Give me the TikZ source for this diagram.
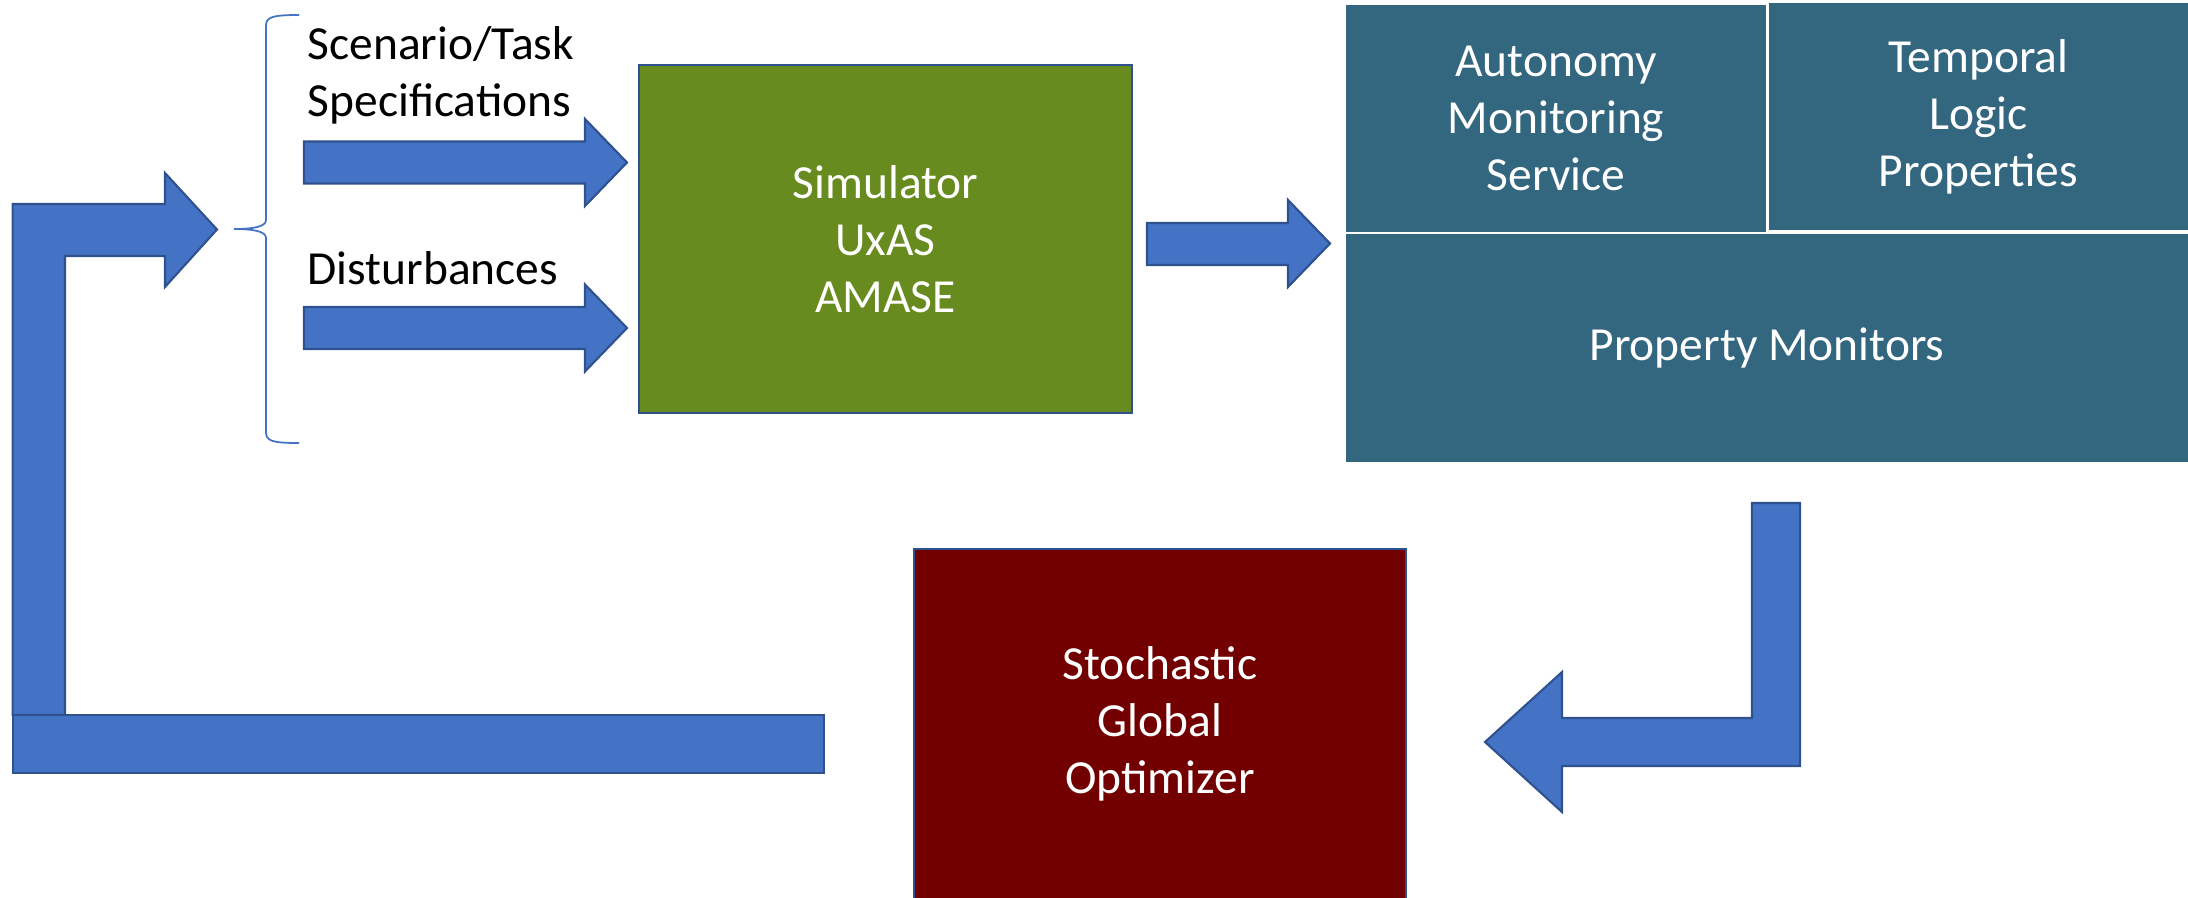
\documentclass[tikz,border=0pt]{standalone}
\usepackage{fontspec}
\setmainfont{Carlito}
\usepackage{tikz}

\definecolor{arrowblue}{HTML}{4472C4}
\definecolor{arrowedge}{HTML}{2F528F}
\definecolor{simgreen}{RGB}{103,139,31}
\definecolor{monteal}{RGB}{51,102,127}
\definecolor{optred}{HTML}{720000}

\tikzset{
	blockarrow/.style={fill=arrowblue,draw=arrowedge,line width=0.6pt},
	box/.style={inner sep=0pt,outer sep=0pt,align=center,text=white,font=\fontsize{13.5}{16.2}\selectfont},
	sidetext/.style={inner sep=0pt,align=left,anchor=base west,font=\fontsize{13.5}{16.2}\selectfont}
}

\begin{document}
\begin{tikzpicture}[x=0.01cm,y=-0.01cm]
		\useasboundingbox (0,0) rectangle (2188,897);
		% simulator and monitors
		\node[box,fill=simgreen,draw=arrowedge,line width=0.6pt,minimum width=4.93cm,minimum height=3.48cm] (sim) at (885.5,239) {Simulator\\UxAS\\AMASE};
		\node[box,fill=monteal,minimum width=4.20cm,minimum height=2.27cm] (ams) at (1556,118.5) {Autonomy\\Monitoring\\Service};
		\node[box,fill=monteal,minimum width=4.19cm,minimum height=2.27cm] (tlp) at (1978.5,116.5) {Temporal\\Logic\\Properties};
		\node[box,fill=monteal,minimum width=8.42cm,minimum height=2.28cm] (pm) at (1767,348) {Property Monitors};
		\node[box,fill=optred,draw=arrowedge,line width=0.6pt,minimum width=4.92cm,minimum height=3.50cm] (sgo) at (1160,724) {Stochastic\\Global\\Optimizer};
		% inputs
		\node[sidetext] (spec) at (307,116) {Scenario/Task\\Specifications};
		\node[sidetext] (dist) at (307,284) {Disturbances};
		\draw[arrowblue,line width=0.5pt] (299,15) .. controls (272,15) and (266,17) .. (266,26) -- (266,220) .. controls (266,227) and (252,229) .. (234,229)
			.. controls (252,229) and (266,231) .. (266,238) -- (266,432) .. controls (266,441) and (272,443) .. (299,443);
		\foreach \y in {162.5,328}
		\filldraw[blockarrow] (304,\y-21) -- (585,\y-21) -- (585,\y-43.5) -- (627,\y) -- (585,\y+43.5) -- (585,\y+21) -- (304,\y+21) -- cycle;
		\filldraw[blockarrow] (1147,223) -- (1288,223) -- (1288,200) -- (1330,243.5) -- (1288,287) -- (1288,265) -- (1147,265) -- cycle;
		% feedback loop
		\filldraw[blockarrow] (1752,503) -- (1800,503) -- (1800,766) -- (1562,766) -- (1562,812) -- (1485,742) -- (1562,672) -- (1562,718) -- (1752,718) -- cycle;
		\filldraw[blockarrow] (12.6,715) -- (12.6,204) -- (165,204) -- (165,173) -- (217,229.5) -- (165,287) -- (165,256) -- (65,256) -- (65,715) -- cycle;
		\filldraw[blockarrow] (12.6,715) rectangle (824,773);
\end{tikzpicture}
\end{document}
